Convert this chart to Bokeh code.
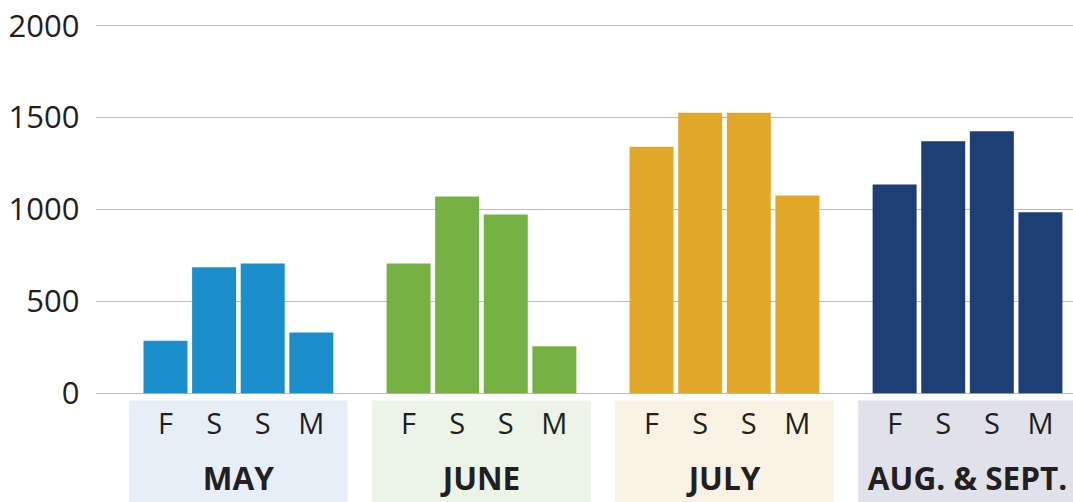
from bokeh.plotting import figure
from bokeh.models import FixedTicker, Range1d, ColumnDataSource
from bokeh.core.properties import value
from bokeh.embed import file_html
from bokeh.resources import INLINE

# ---- data ----
months = ["MAY", "JUNE", "JULY", "AUG. & SEPT."]
days = ["F", "S", "S", "M"]
may = [285, 685, 705, 330]
june = [705, 1070, 972, 255]
july = [1340, 1526, 1526, 1075]
aug_sept = [1135, 1370, 1425, 984]
y_ticks = [0, 500, 1000, 1500, 2000]

series = [may, june, july, aug_sept]
bar_colors = ["#1a8fcc", "#76b243", "#e2a82a", "#1d3f75"]
band_colors = ["#e6eef8", "#ebf4e6", "#faf3e5", "#e0e1ea"]
text_color = "#231f20"
FONT = "Open Sans"

GROUP_STEP = 5
Y_MIN, Y_MAX = -594.7, 2081.6
BAND_TOP = -39.7

xs, tops, cols, day_labels = [], [], [], []
for g, vals in enumerate(series):
    for i, v in enumerate(vals):
        xs.append(GROUP_STEP * g + i)
        tops.append(v)
        cols.append(bar_colors[g])
        day_labels.append(days[i])

p = figure(width=1073, height=502, output_backend="svg", toolbar_location=None,
           x_range=Range1d(-1.44, 18.68), y_range=Range1d(Y_MIN, Y_MAX),
           min_border_left=95, min_border_right=0, min_border_top=10, min_border_bottom=0)

p.outline_line_color = None
p.background_fill_color = "white"
p.xaxis.visible = False
p.xgrid.visible = False
p.ygrid.ticker = FixedTicker(ticks=y_ticks)
p.ygrid.grid_line_color = "#bdbdbd"
p.ygrid.grid_line_width = 1.2

p.yaxis.ticker = FixedTicker(ticks=y_ticks)
p.yaxis.axis_line_color = None
p.yaxis.major_tick_line_color = None
p.yaxis.minor_tick_line_color = None
p.yaxis.major_tick_out = 0
p.yaxis.major_tick_in = 0
p.yaxis.major_label_standoff = 16
p.yaxis.major_label_text_font = FONT
p.yaxis.major_label_text_font_size = "31px"
p.yaxis.major_label_text_color = text_color

# bands under the categories
band_x = [GROUP_STEP * g + 1.5 for g in range(len(months))]
p.rect(x=band_x, y=[(BAND_TOP + Y_MIN) / 2] * 4, width=4.5, height=BAND_TOP - Y_MIN,
       fill_color=band_colors, line_color=None)

# bars
src = ColumnDataSource(dict(x=xs, top=tops, color=cols, day=day_labels))
p.vbar(x="x", top="top", bottom=0, width=0.905, fill_color="color", line_color=None, source=src)

# day labels
p.text(x="x", y=-158, text="day", source=src, text_align="center", text_baseline="middle",
       text_font=value(FONT), text_font_size=value("29px"), text_color=text_color)

# month labels
p.text(x=band_x, y=[-460] * 4, text=months, text_align="center", text_baseline="middle",
       text_font=value(FONT), text_font_size=value("31.5px"), text_font_style="bold",
       text_color=text_color)

open("out.html", "w").write(file_html(p, INLINE))
